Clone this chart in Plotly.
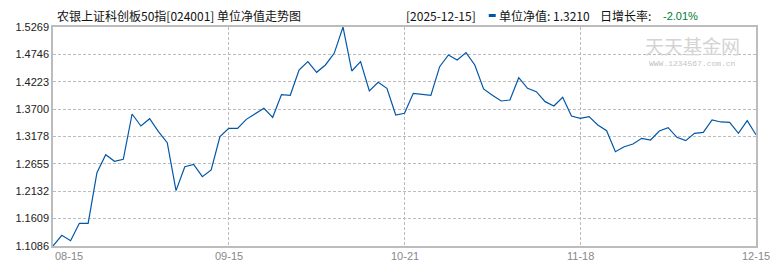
import plotly.graph_objects as go

# ---- data ----
nav_values = [
    1.1086, 1.1290, 1.1188, 1.1519, 1.1519, 1.2487, 1.2830, 1.2703, 1.2741, 1.3607,
    1.3378, 1.3518, 1.3270, 1.3060, 1.2143, 1.2601, 1.2646, 1.2410, 1.2538, 1.3174,
    1.3334, 1.3334, 1.3505, 1.3607, 1.3716, 1.3544, 1.3977, 1.3964, 1.4448, 1.4607,
    1.4404, 1.4544, 1.4766, 1.5269, 1.4429, 1.4607, 1.4047, 1.4212, 1.4098, 1.3588,
    1.3620, 1.4002, 1.3990, 1.3964, 1.4511, 1.4734, 1.4639, 1.4779, 1.4544, 1.4085,
    1.3964, 1.3856, 1.3875, 1.4301, 1.4098, 1.4034, 1.3843, 1.3760, 1.3926, 1.3569,
    1.3525, 1.3556, 1.3397, 1.3289, 1.2888, 1.2983, 1.3034, 1.3142, 1.3111, 1.3283,
    1.3346, 1.3162, 1.3098, 1.3238, 1.3257, 1.3493, 1.3455, 1.3448, 1.3238, 1.3481,
    1.3210,
]
x_index = list(range(len(nav_values)))
x_tick_positions = [0, 20, 40, 60, 80]
x_tick_labels = ["08-15", "09-15", "10-21", "11-18", "12-15"]
y_tick_values = [1.1086, 1.1609, 1.2132, 1.2655, 1.3178, 1.3700, 1.4223, 1.4746, 1.5269]
y_tick_labels = ["1.1086", "1.1609", "1.2132", "1.2655", "1.3178", "1.3700", "1.4223", "1.4746", "1.5269"]
title_text = "农银上证科创板50指[024001] 单位净值走势图"
date_text = "[2025-12-15]"
nav_text = "单位净值: 1.3210"
growth_label = "日增长率:"
growth_value = "-2.01%"

# ---- layout geometry ----
L, R, T, B = 53, 12, 27, 24
W, H = 770, 270
PW, PH = W - L - R, H - T - B

def px_x(px):
    return (px - L) / PW

def px_y(py):
    return (H - B - py) / PH

fig = go.Figure()
fig.add_trace(go.Scatter(
    x=x_index, y=nav_values, mode="lines",
    line=dict(color="#0057a8", width=1.2),
    hoverinfo="skip", showlegend=False,
))

grid = "#bcbcbc"
fig.update_layout(
    width=W, height=H,
    margin=dict(l=L, r=R, t=T, b=B),
    paper_bgcolor="white", plot_bgcolor="white",
    showlegend=False,
    xaxis=dict(
        range=[0, 80], tickvals=x_tick_positions, showticklabels=False,
        showgrid=True, gridcolor=grid, griddash="3px,2px", gridwidth=1,
        showline=True, linecolor=grid, linewidth=1.5, mirror=True,
        zeroline=False, ticks="",
    ),
    yaxis=dict(
        range=[y_tick_values[0], y_tick_values[-1]],
        tickvals=y_tick_values, ticktext=y_tick_labels,
        tickfont=dict(family="Liberation Sans", size=11, color="#222"),
        showgrid=True, gridcolor=grid, griddash="3px,2px", gridwidth=1,
        showline=True, linecolor=grid, linewidth=1.5, mirror=True,
        zeroline=False, ticks="",
    ),
)

annotations = []
for pos, lab in zip(x_tick_positions, x_tick_labels):
    annotations.append(dict(
        x=pos, y=px_y(256), xref="x", yref="paper", text=lab, showarrow=False,
        xanchor="left" if pos == x_tick_positions[0] else "center", yanchor="middle",
        font=dict(family="Liberation Sans", size=11, color="#888"),
    ))

cjk = "Noto Sans CJK SC"
annotations += [
    dict(x=px_x(55), y=px_y(16), xref="paper", yref="paper", text=title_text,
         showarrow=False, xanchor="left", yanchor="middle",
         font=dict(family=cjk, size=12, color="#111")),
    dict(x=px_x(405), y=px_y(16), xref="paper", yref="paper", text=date_text,
         showarrow=False, xanchor="left", yanchor="middle",
         font=dict(family=cjk, size=12, color="#111")),
    dict(x=px_x(498), y=px_y(16), xref="paper", yref="paper", text=nav_text,
         showarrow=False, xanchor="left", yanchor="middle",
         font=dict(family=cjk, size=12, color="#111")),
    dict(x=px_x(600), y=px_y(16), xref="paper", yref="paper", text=growth_label,
         showarrow=False, xanchor="left", yanchor="middle",
         font=dict(family=cjk, size=12, color="#111")),
    dict(x=px_x(663), y=px_y(16), xref="paper", yref="paper", text=growth_value,
         showarrow=False, xanchor="left", yanchor="middle",
         font=dict(family="Liberation Sans", size=11, color="#007a33")),
    dict(x=px_x(694), y=px_y(45), xref="paper", yref="paper", text="天天基金网",
         showarrow=False, xanchor="center", yanchor="middle",
         font=dict(family=cjk, size=19, color="#d4d4d4")),
    dict(x=px_x(694), y=px_y(63), xref="paper", yref="paper", text="WWW.1234567.com.cn",
         showarrow=False, xanchor="center", yanchor="middle",
         font=dict(family="Liberation Mono", size=8, color="#c4c4c4")),
]
fig.update_layout(annotations=annotations)

fig.add_shape(type="rect", xref="paper", yref="paper",
              x0=px_x(490), x1=px_x(497), y0=px_y(17), y1=px_y(14),
              fillcolor="#0057a8", line=dict(width=0))

fig.write_html("out.html")
